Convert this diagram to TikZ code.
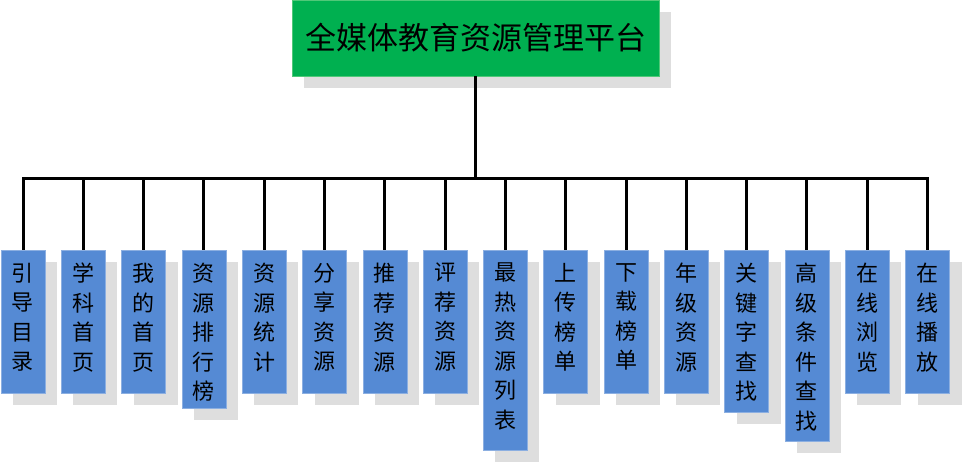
\documentclass[tikz,border=0pt]{standalone}
\usepackage{fontspec}
\newfontfamily\cjk{Noto Sans CJK SC}
\usetikzlibrary{shadows}
\definecolor{boxgreen}{RGB}{0,176,80}
\definecolor{boxgreenedge}{RGB}{80,200,120}
\definecolor{boxblue}{RGB}{85,138,212}
\definecolor{boxblueedge}{RGB}{140,175,225}
\definecolor{shadowgrey}{RGB}{222,222,222}
\tikzset{
  shadowed/.style={drop shadow={shadow xshift=12pt,shadow yshift=-12pt,fill=shadowgrey,opacity=1}},
  rootbox/.style={shadowed,rectangle,fill=boxgreen,draw=boxgreenedge,line width=0.6pt,
    minimum width=367pt,minimum height=76pt,inner sep=0pt,
    font=\cjk\fontsize{31}{36}\selectfont},
  leafbox/.style={shadowed,rectangle,fill=boxblue,draw=boxblueedge,line width=0.6pt,
    minimum width=44pt,inner sep=0pt,anchor=north},
  leaftext/.style={anchor=north,inner sep=0pt,align=center,
    font=\cjk\fontsize{22}{29.5}\selectfont},
  conn/.style={line width=3pt,black},
}
\begin{document}
\begin{tikzpicture}[x=1pt,y=-1pt]
\useasboundingbox (0,0) rectangle (964,463);
\node[rootbox] (root) at (475.5,38) {全媒体教育资源管理平台};
\coordinate (bar) at (476,178);
\foreach \i/\h/\t in {
  1/143/{引\\导\\目\\录},
  2/143/{学\\科\\首\\页},
  3/143/{我\\的\\首\\页},
  4/158/{资\\源\\排\\行\\榜},
  5/143/{资\\源\\统\\计},
  6/143/{分\\享\\资\\源},
  7/143/{推\\荐\\资\\源},
  8/143/{评\\荐\\资\\源},
  9/200/{最\\热\\资\\源\\列\\表},
  10/143/{上\\传\\榜\\单},
  11/143/{下\\载\\榜\\单},
  12/143/{年\\级\\资\\源},
  13/162/{关\\键\\字\\查\\找},
  14/191/{高\\级\\条\\件\\查\\找},
  15/143/{在\\线\\浏\\览},
  16/143/{在\\线\\播\\放}}{
  \node[leafbox,minimum height=\h pt] (b\i) at ({23+(\i-1)*60.3},250) {};
  \node[leaftext] (t\i) at ([yshift=-13pt]b\i.north) {\t};
}
\draw[conn] (root.south) -- (root.south |- bar);
\draw[conn,line cap=rect] (b1.north |- bar) -- (b16.north |- bar);
\foreach \i in {1,...,16}{
  \draw[conn] (b\i.north |- bar) -- (b\i.north);
}
\end{tikzpicture}
\end{document}
